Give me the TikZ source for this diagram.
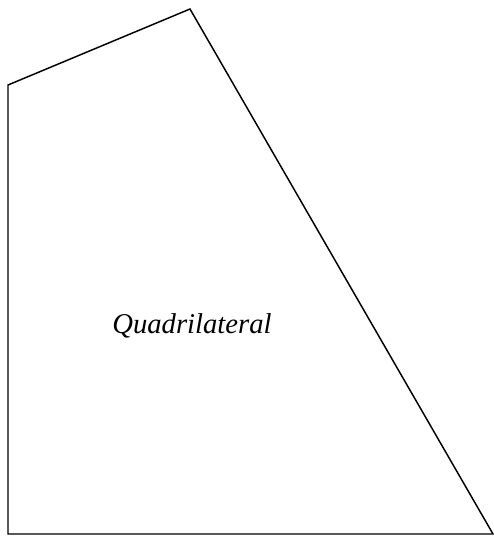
\documentclass[tikz,border=0pt]{standalone}
\usepackage{fontspec}
\setmainfont{Liberation Serif}
\usetikzlibrary{positioning}

\begin{document}
\begin{tikzpicture}[x=0.75pt,y=-0.75pt]
    % Rahmen wie das Bild
    \useasboundingbox (0,0) rectangle (494,537);
    % Ecken des Vierecks
    \coordinate (A) at (8,534);
    \coordinate (B) at (8,85);
    \coordinate (C) at (190,9);
    \coordinate (D) at (493,534);
    \draw[line width=1.1pt,line join=miter] (A) -- (B) -- (C) -- (D) -- cycle;
    \node (label) at (192,326) {\fontsize{21.5}{25}\selectfont\itshape Quadrilateral};
  \end{tikzpicture}
\end{document}
